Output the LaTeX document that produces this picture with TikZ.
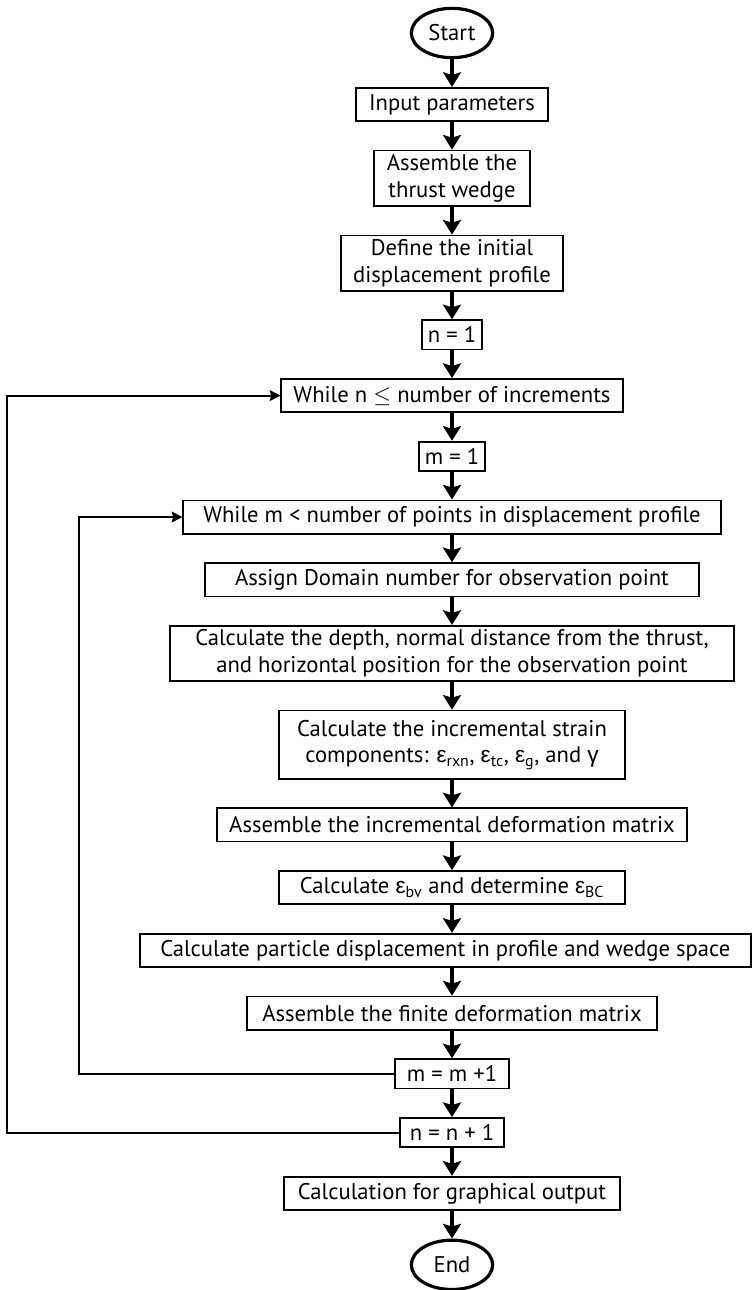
\documentclass[tikz,border=0pt]{standalone}
\usepackage{fontspec}
\setmainfont{PT Sans}
\newfontfamily\grk{Liberation Sans}
\usepackage{tikz}
\usetikzlibrary{shapes,arrows,arrows.meta,positioning}

\begin{document}
\begin{tikzpicture}[node distance=20.75pt, font=\fontsize{17}{20}\selectfont,
    box/.style={rectangle, draw, line width=1.3pt, align=center,
                minimum height=25pt, inner sep=3pt},
    cnt/.style={box, minimum height=22pt, inner sep=2pt},
    terminal/.style={ellipse, draw, line width=2.4pt, minimum width=61pt,
                minimum height=37pt, inner sep=1pt},
    arrow/.style={line width=3.5pt, -{Stealth[length=11pt,width=13.5pt,inset=2pt]}},
    backline/.style={line width=1.5pt, -{Stealth[length=8pt,width=8pt,inset=1pt]}}]

\useasboundingbox (0,0) rectangle (564.75pt,-967.5pt);

\node[terminal] (start) at (339pt,-24.75pt) {Start};
\node[box, below=of start, minimum width=144pt] (input) {Input parameters};
\node[box, below=of input, minimum width=117pt] (wedge) {Assemble the\\thrust wedge};
\node[box, below=of wedge, minimum width=166.5pt] (profile) {Define the initial\\displacement profile};
\node[cnt, below=of profile, minimum width=45pt] (ninit) {n = 1};
\node[box, below=of ninit, minimum width=256pt] (nwhile) {While n $\leq$ number of increments};
\node[cnt, below=of nwhile, minimum width=49.5pt] (minit) {m = 1};
\node[box, below=of minit, minimum width=403pt] (mwhile) {While m < number of points in displacement profile};
\node[box, below=of mwhile, minimum width=370.5pt] (domain) {Assign Domain number for observation point};
\node[box, below=of domain, minimum width=423pt] (depth) {Calculate the depth, normal distance from the thrust,\\and horizontal position for the observation point};
\node[box, below=of depth, minimum width=260pt, inner sep=7pt] (strain) {Calculate the incremental strain\\components: {\grk ε}\textsubscript{rxn}, {\grk ε}\textsubscript{tc}, {\grk ε}\textsubscript{g}, and {\grk γ}};
\node[box, below=of strain, minimum width=353pt] (incmat) {Assemble the incremental deformation matrix};
\node[box, below=of incmat, minimum width=260pt] (bulk) {Calculate {\grk ε}\textsubscript{bv} and determine {\grk ε}\textsubscript{BC}};
\node[box, below=of bulk, minimum width=458pt, xshift=-5pt] (particle) {Calculate particle displacement in profile and wedge space};
\node[box, below=of particle, minimum width=307.5pt, xshift=5pt] (finmat) {Assemble the finite deformation matrix};
\node[cnt, below=of finmat, minimum width=86pt] (mnext) {m = m +1};
\node[cnt, below=of mnext, minimum width=78pt] (nnext) {n = n + 1};
\node[box, below=of nnext, minimum width=252pt] (graph) {Calculation for graphical output};
\node[terminal, below=of graph] (end) {End};

\draw[arrow] (start) -- (input);
\draw[arrow] (input) -- (wedge);
\draw[arrow] (wedge) -- (profile);
\draw[arrow] (profile) -- (ninit);
\draw[arrow] (ninit) -- (nwhile);
\draw[arrow] (nwhile) -- (minit);
\draw[arrow] (minit) -- (mwhile);
\draw[arrow] (mwhile) -- (domain);
\draw[arrow] (domain) -- (depth);
\draw[arrow] (depth) -- (strain);
\draw[arrow] (strain) -- (incmat);
\draw[arrow] (incmat) -- (bulk);
\draw[arrow] (bulk) -- (bulk.south |- particle.north);
\draw[arrow] (finmat.north |- particle.south) -- (finmat);
\draw[arrow] (finmat) -- (mnext);
\draw[arrow] (mnext) -- (nnext);
\draw[arrow] (nnext) -- (graph);
\draw[arrow] (graph) -- (end);

% loops back
\coordinate (mback) at (59.25pt,0);
\coordinate (nback) at (5.25pt,0);
\draw[backline] (mnext.west) -- (mback |- mnext.west) |- (mwhile.west);
\draw[backline] (nnext.west) -- (nback |- nnext.west) |- (nwhile.west);

\end{tikzpicture}
\end{document}
